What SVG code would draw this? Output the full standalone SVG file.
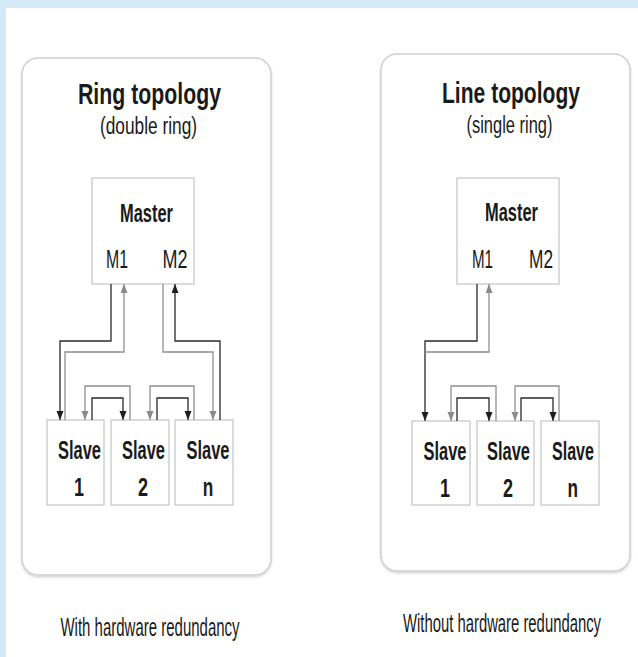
<svg xmlns="http://www.w3.org/2000/svg" width="638" height="657" viewBox="0 0 638 657">
  <defs>
    <marker id="ah-dark" markerUnits="userSpaceOnUse" markerWidth="8" markerHeight="9" refX="9" refY="3.5" orient="auto">
      <path d="M0,0 L9,3.5 L0,7 z" fill="#1e1e1e"/>
    </marker>
    <marker id="ah-gray" markerUnits="userSpaceOnUse" markerWidth="8" markerHeight="9" refX="9" refY="3.5" orient="auto">
      <path d="M0,0 L9,3.5 L0,7 z" fill="#8a8a8a"/>
    </marker>
    <filter id="soft" x="-5%" y="-5%" width="110%" height="110%">
      <feDropShadow dx="0" dy="1.5" stdDeviation="1.2" flood-color="#000" flood-opacity="0.18"/>
    </filter>
  </defs>
  <style>
    .panel { fill: #ffffff; stroke: #cfcfcf; stroke-width: 1.5; }
    .box { fill: #ffffff; stroke: #c4c4c4; stroke-width: 1.2; }
    .t { font-family: "Liberation Sans", Arial, sans-serif; fill: #1a1a1a; text-anchor: middle; }
    .title { font-size: 29px; font-weight: bold; }
    .sub { font-size: 23px; }
    .lbl { font-size: 25px; font-weight: bold; }
    .port { font-size: 26px; }
    .cap { font-size: 25px; }
    .dark { fill: none; stroke: #2a2a2a; stroke-width: 1.3; marker-end: url(#ah-dark); }
    .gray { fill: none; stroke: #8f8f8f; stroke-width: 1.3; marker-end: url(#ah-gray); }
  </style>

  <!-- page background -->
  <rect x="0" y="0" width="638" height="657" fill="#d4e9f7"/>
  <rect x="6" y="8" width="632" height="649" fill="#ffffff"/>

  <!-- ring topology panel -->
  <g id="ring-panel">
    <rect class="panel" x="22" y="58" width="249" height="517" rx="16" filter="url(#soft)"/>
    <text class="t title" x="149.5" y="104" textLength="143" lengthAdjust="spacingAndGlyphs">Ring topology</text>
    <text class="t sub" x="148.5" y="134" textLength="97" lengthAdjust="spacingAndGlyphs">(double ring)</text>
  </g>
  <g id="ring-master">
    <rect class="box" x="92" y="178" width="102" height="106"/>
    <text class="t lbl" x="146.5" y="222" textLength="53" lengthAdjust="spacingAndGlyphs">Master</text>
    <text class="t port" x="117" y="268" textLength="22" lengthAdjust="spacingAndGlyphs">M1</text>
    <text class="t port" x="175" y="268" textLength="25" lengthAdjust="spacingAndGlyphs">M2</text>
  </g>
  <g id="ring-slave-1">
    <rect class="box" x="47" y="420" width="57" height="85"/>
    <text class="t lbl" x="79.5" y="459" textLength="43" lengthAdjust="spacingAndGlyphs">Slave</text>
    <text class="t lbl" x="79" y="496" textLength="10" lengthAdjust="spacingAndGlyphs">1</text>
  </g>
  <g id="ring-slave-2">
    <rect class="box" x="111" y="420" width="58" height="85"/>
    <text class="t lbl" x="143.5" y="459" textLength="43" lengthAdjust="spacingAndGlyphs">Slave</text>
    <text class="t lbl" x="143" y="496" textLength="10" lengthAdjust="spacingAndGlyphs">2</text>
  </g>
  <g id="ring-slave-n">
    <rect class="box" x="175" y="420" width="58" height="85"/>
    <text class="t lbl" x="208" y="459" textLength="43" lengthAdjust="spacingAndGlyphs">Slave</text>
    <text class="t lbl" x="208" y="496" textLength="10.5" lengthAdjust="spacingAndGlyphs">n</text>
  </g>
  <g id="ring-caption">
    <!-- condensed caption: natural width scaled down horizontally -->
    <text class="t cap" transform="translate(150,636) scale(0.60,1)" x="0" y="0">With hardware redundancy</text>
  </g>

  <!-- line topology panel -->
  <g id="line-panel">
    <rect class="panel" x="381" y="54" width="249" height="517" rx="16" filter="url(#soft)"/>
    <text class="t title" x="511" y="103" textLength="138" lengthAdjust="spacingAndGlyphs">Line topology</text>
    <text class="t sub" x="509.5" y="133" textLength="86" lengthAdjust="spacingAndGlyphs">(single ring)</text>
  </g>
  <g id="line-master">
    <rect class="box" x="457" y="178" width="102" height="106"/>
    <text class="t lbl" x="511.5" y="221" textLength="53" lengthAdjust="spacingAndGlyphs">Master</text>
    <text class="t port" x="482.5" y="268" textLength="21" lengthAdjust="spacingAndGlyphs">M1</text>
    <text class="t port" x="541" y="268" textLength="24" lengthAdjust="spacingAndGlyphs">M2</text>
  </g>
  <g id="line-slave-1">
    <rect class="box" x="412" y="421" width="58" height="84"/>
    <text class="t lbl" x="445" y="460" textLength="43" lengthAdjust="spacingAndGlyphs">Slave</text>
    <text class="t lbl" x="445" y="497" textLength="10" lengthAdjust="spacingAndGlyphs">1</text>
  </g>
  <g id="line-slave-2">
    <rect class="box" x="477" y="421" width="57" height="84"/>
    <text class="t lbl" x="508.5" y="460" textLength="43" lengthAdjust="spacingAndGlyphs">Slave</text>
    <text class="t lbl" x="508" y="497" textLength="10" lengthAdjust="spacingAndGlyphs">2</text>
  </g>
  <g id="line-slave-n">
    <rect class="box" x="541" y="421" width="58" height="84"/>
    <text class="t lbl" x="573" y="460" textLength="42" lengthAdjust="spacingAndGlyphs">Slave</text>
    <text class="t lbl" x="572.7" y="497" textLength="10.5" lengthAdjust="spacingAndGlyphs">n</text>
  </g>
  <g id="line-caption">
    <text class="t cap" transform="translate(502,632) scale(0.594,1)" x="0" y="0">Without hardware redundancy</text>
  </g>

  <!-- connectors -->
  <g id="connectors">
    <!-- ring: master M1 <-> slave 1 -->
    <path class="dark" d="M111,284 V341 H60 V420"/>
    <path class="gray" d="M65,420 V352 H124 V284"/>
    <!-- ring: slave 1 <-> slave 2 -->
    <path class="dark" d="M92,420 V398 H123 V420"/>
    <path class="gray" d="M130,420 V386 H85 V420"/>
    <!-- ring: slave 2 <-> slave n -->
    <path class="dark" d="M157,420 V398 H188 V420"/>
    <path class="gray" d="M194,420 V386 H150 V420"/>
    <!-- ring: master M2 <-> slave n -->
    <path class="gray" d="M163,284 V352 H213 V420"/>
    <path class="dark" d="M220,420 V341 H175 V284"/>

    <!-- line: master M1 <-> slave 1 -->
    <path class="dark" d="M477,284 V341 H425 V421"/>
    <path class="gray" d="M425,352 H489 V284"/>
    <!-- line: slave 1 <-> slave 2 -->
    <path class="dark" d="M457,421 V398 H489 V421"/>
    <path class="gray" d="M496,421 V386 H451 V421"/>
    <!-- line: slave 2 <-> slave n -->
    <path class="dark" d="M521,421 V398 H553 V421"/>
    <path class="gray" d="M559,421 V386 H515 V421"/>
  </g>
</svg>
